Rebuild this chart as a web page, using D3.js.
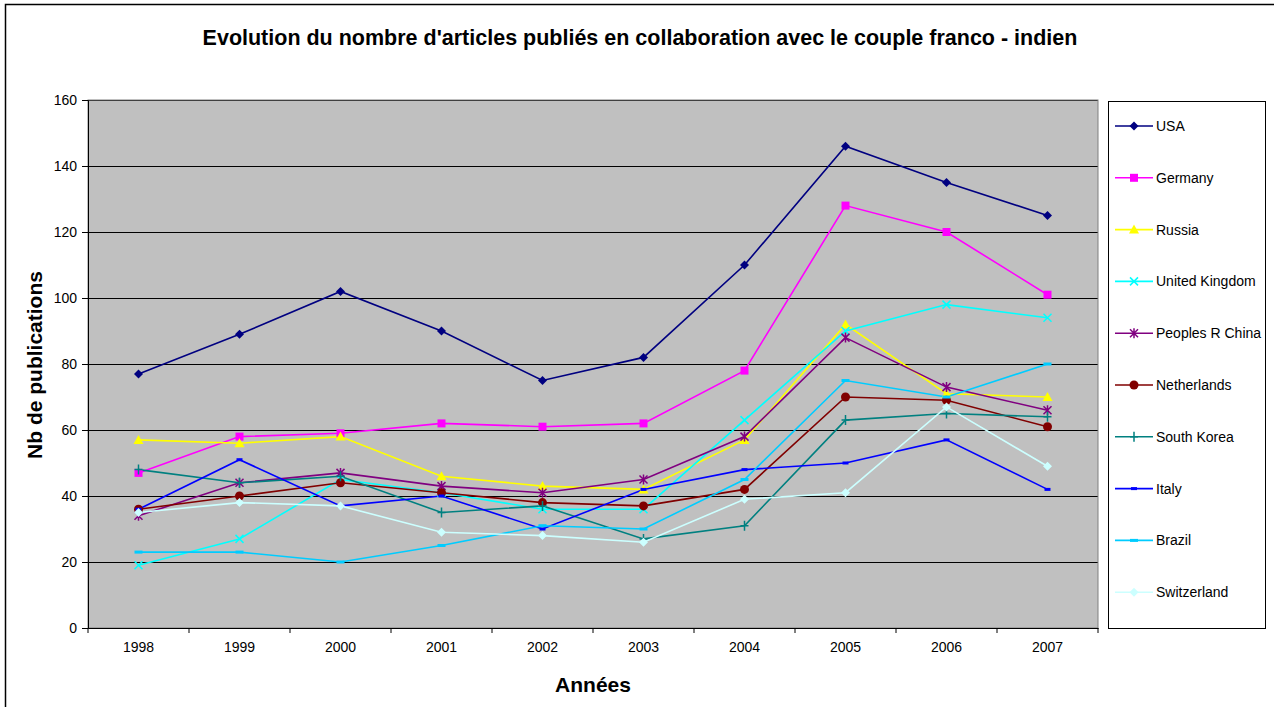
<!DOCTYPE html>
<html><head><meta charset="utf-8">
<script src="https://cdn.jsdelivr.net/npm/d3@7"></script>
<style>body{margin:0;background:#fff;} svg{display:block;font-family:Arial,"Liberation Sans",sans-serif;}</style>
</head><body>
<svg id="c" width="1274" height="707"></svg>
<script>
const years = ["1998","1999","2000","2001","2002","2003","2004","2005","2006","2007"];
const yTicks = [0,20,40,60,80,100,120,140,160];
const seriesNames = ["USA","Germany","Russia","United Kingdom","Peoples R China","Netherlands","South Korea","Italy","Brazil","Switzerland"];
const usa         = [77,89,102,90,75,82,110,146,135,125];
const germany     = [47,58,59,62,61,62,78,128,120,101];
const russia      = [57,56,58,46,43,42,57,92,71,70];
const uk          = [19,27,45,41,36,36,63,90,98,94];
const china       = [34,44,47,43,41,45,58,88,73,66];
const netherlands = [36,40,44,41,38,37,42,70,69,61];
const southKorea  = [48,44,46,35,37,27,31,63,65,64];
const italy       = [36,51,37,40,30,42,48,50,57,42];
const brazil      = [23,23,20,25,31,30,45,75,70,80];
const switzerland = [35,38,37,29,28,26,39,41,67,49];
const seriesValues = [usa,germany,russia,uk,china,netherlands,southKorea,italy,brazil,switzerland];
const colors = ["#000080","#FF00FF","#FFFF00","#00FFFF","#800080","#800000","#008080","#0000FF","#00CCFF","#CCFFFF"];
const markers = ["diamond","square","triangle","x","star","circle","plus","dashS","dashL","diamond"];

const svg = d3.select("#c");
const L=88, R=1098, T=100, B=628;
const FF = "Arial, 'Liberation Sans', sans-serif";

svg.append("rect").attr("x",5.5).attr("y",4.5).attr("width",1300).attr("height",720)
  .attr("fill","#fff").attr("stroke","#000").attr("stroke-width",1.5);

svg.append("text").attr("x",640).attr("y",45).attr("text-anchor","middle")
  .attr("font-size",21.5).attr("font-weight","bold").text("Evolution du nombre d'articles publiés en collaboration avec le couple franco - indien");

const x = d3.scaleBand().domain(years).range([L,R]).padding(0);
const y = d3.scaleLinear().domain([0,160]).range([B,T]);

svg.append("rect").attr("x",L).attr("y",T).attr("width",R-L).attr("height",B-T).attr("fill","#C0C0C0");

// gridlines
svg.append("g").selectAll("line").data(yTicks.filter(d=>d>0)).join("line")
  .attr("x1",L).attr("x2",R).attr("y1",d=>Math.round(y(d))+0.5).attr("y2",d=>Math.round(y(d))+0.5)
  .attr("stroke","#000").attr("stroke-width",1);

svg.append("rect").attr("x",L).attr("y",T).attr("width",R-L).attr("height",B-T)
  .attr("fill","none").attr("stroke","#808080").attr("stroke-width",1);

// y axis
const yAxis = d3.axisLeft(y).tickValues(yTicks).tickSize(6).tickPadding(5);
const gy = svg.append("g").attr("transform",`translate(${L},0)`).call(yAxis);
gy.select(".domain").attr("stroke","#000");
gy.selectAll("text").attr("font-size",14).attr("font-family",FF).attr("fill","#000");

// x axis
const xAxis = d3.axisBottom(x).tickSize(0).tickPadding(14);
const gx = svg.append("g").attr("transform",`translate(0,${B})`).call(xAxis);
gx.select(".domain").attr("stroke","#000");
gx.selectAll("text").attr("font-size",14).attr("font-family",FF).attr("fill","#000");
gx.selectAll(".bt").data(years.concat(["end"])).join("line")
  .attr("x1",(d,i)=>L+i*x.bandwidth()).attr("x2",(d,i)=>L+i*x.bandwidth())
  .attr("y1",0).attr("y2",5).attr("stroke","#000");

svg.append("text").attr("x",593).attr("y",692).attr("text-anchor","middle")
  .attr("font-size",21).attr("font-weight","bold").text("Années");
svg.append("text").attr("transform","translate(42,365) rotate(-90)").attr("text-anchor","middle")
  .attr("font-size",21).attr("font-weight","bold").text("Nb de publications");

function drawMarker(g, type, color, cx, cy){
  const s = g.append("g").attr("transform",`translate(${cx},${cy})`);
  switch(type){
    case "diamond": s.append("path").attr("d","M0,-4.5L4.5,0L0,4.5L-4.5,0Z").attr("fill",color); break;
    case "square": s.append("rect").attr("x",-4).attr("y",-4).attr("width",8).attr("height",8).attr("fill",color); break;
    case "triangle": s.append("path").attr("d","M0,-5L5,4L-5,4Z").attr("fill",color); break;
    case "x": s.append("path").attr("d","M-4,-4L4,4M-4,4L4,-4").attr("stroke",color).attr("stroke-width",1.5); break;
    case "star": s.append("path").attr("d","M-4,-4L4,4M-4,4L4,-4M0,-5L0,5").attr("stroke",color).attr("stroke-width",1.5); break;
    case "circle": s.append("circle").attr("r",4.5).attr("fill",color); break;
    case "plus": s.append("path").attr("d","M-4,0L4,0M0,-5L0,5").attr("stroke",color).attr("stroke-width",1.5); break;
    case "dashS": s.append("rect").attr("x",-3).attr("y",-1.5).attr("width",6).attr("height",3).attr("fill",color); break;
    case "dashL": s.append("rect").attr("x",-4).attr("y",-1.5).attr("width",8).attr("height",3).attr("fill",color); break;
  }
}

const line = d3.line().x((d,i)=>x(years[i])+x.bandwidth()/2).y(d=>y(d));
const plot = svg.append("g");
seriesValues.forEach((vals,k)=>{
  plot.append("path").datum(vals).attr("d",line).attr("fill","none")
    .attr("stroke",colors[k]).attr("stroke-width",1.6);
});
seriesValues.forEach((vals,k)=>{
  vals.forEach((v,i)=>drawMarker(plot, markers[k], colors[k], x(years[i])+x.bandwidth()/2, y(v)));
});

// legend
const lg = svg.append("g");
lg.append("rect").attr("x",1108.5).attr("y",101.5).attr("width",157).attr("height",527)
  .attr("fill","#fff").attr("stroke","#000").attr("stroke-width",1);
seriesNames.forEach((n,k)=>{
  const ly = 126 + k*51.8;
  lg.append("line").attr("x1",1115).attr("x2",1153).attr("y1",ly).attr("y2",ly)
    .attr("stroke",colors[k]).attr("stroke-width",1.6);
  drawMarker(lg, markers[k], colors[k], 1134, ly);
  lg.append("text").attr("x",1156).attr("y",ly+5).attr("font-size",14).text(n);
});
</script>
</body></html>
